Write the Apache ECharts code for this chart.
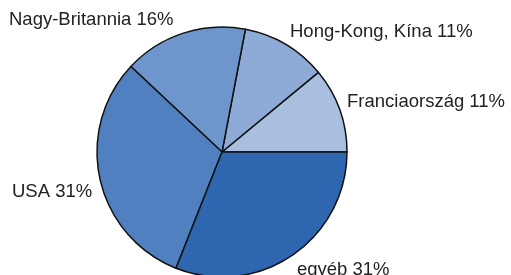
<!DOCTYPE html>
<html>
<head>
<meta charset="UTF-8">
<title>pie</title>
<script type="text/javascript" src="https://cdn.jsdelivr.net/npm/echarts@6/dist/echarts.min.js"></script>
<style>
  html, body { margin: 0; padding: 0; background: #fff; }
  #container { width: 511px; height: 275px; }
</style>
</head>
<body>
<div id="container"></div>
<script type="text/javascript">
// counterclockwise from 3 o'clock
var names = ['Franciaország', 'Hong-Kong, Kína', 'Nagy-Britannia', 'USA', 'egyéb'];
var shares = [11, 11, 16, 31, 31];
var colors = ['#a8bfe0', '#8dabd6', '#6f96cc', '#5080c0', '#2f66b0'];

var dataArray = [];
for (var i = 0; i < names.length; i++) {
    dataArray.push({ name: names[i], value: shares[i], itemStyle: { color: colors[i] } });
}

// label anchor points (left edge, vertical middle)
var labelPos = [
    { x: 347, y: 102 },
    { x: 290, y: 32 },
    { x: 9, y: 20 },
    { x: 12, y: 192 },
    { x: 297, y: 270 }
];

var myChart = echarts.init(document.getElementById('container'));
myChart.setOption({
    animation: false,
    series: [{
        type: 'pie',
        center: [222, 152],
        radius: 125,
        startAngle: 0,
        clockwise: false,
        data: dataArray,
        itemStyle: { borderColor: '#111', borderWidth: 1.5 },
        label: {
            show: true,
            position: 'outside',
            formatter: '{b} {c}%',
            fontFamily: 'Liberation Sans, Arial, sans-serif',
            fontSize: 18.5,
            color: '#222',
            overflow: 'none',
            width: 300
        },
        labelLine: { show: false },
        labelLayout: function (params) {
            var p = labelPos[params.dataIndex];
            return { x: p.x, y: p.y, align: 'left', verticalAlign: 'middle', hideOverlap: false };
        },
        emphasis: { disabled: true }
    }]
});
</script>
</body>
</html>
